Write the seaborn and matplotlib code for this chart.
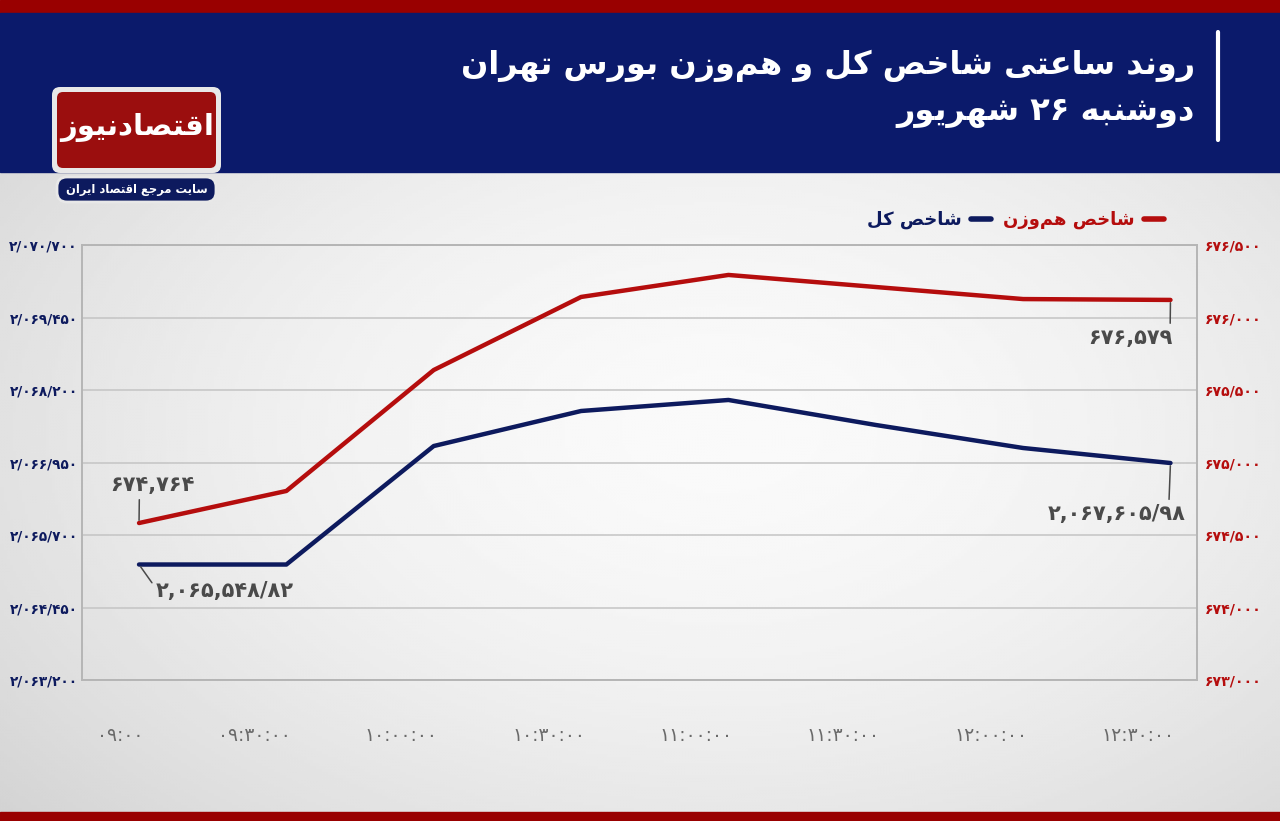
import matplotlib
matplotlib.use("Agg")
import matplotlib.pyplot as plt
import matplotlib.transforms as mtransforms
from matplotlib.patches import Rectangle, FancyBboxPatch
from matplotlib.lines import Line2D
from matplotlib.ticker import FuncFormatter
import numpy as np
import pandas as pd
import seaborn as sns

# --- data ---
times = ["۰۹:۰۰", "۰۹:۳۰:۰۰", "۱۰:۰۰:۰۰", "۱۰:۳۰:۰۰",
         "۱۱:۰۰:۰۰", "۱۱:۳۰:۰۰", "۱۲:۰۰:۰۰", "۱۲:۳۰:۰۰"]
total_index = [2065191, 2065191, 2067234, 2067838, 2068028, 2067597, 2067200, 2066941]
equal_index = [674263, 674521, 675494, 676082, 676259, 676162, 676065, 676058]
left_ticks = np.arange(2063200, 2070701, 1250)
# right-hand labels exactly as printed on the chart (673/500 is skipped there)
right_labels = ["۶۷۳/۰۰۰", "۶۷۴/۰۰۰", "۶۷۴/۵۰۰", "۶۷۵/۰۰۰",
                "۶۷۵/۵۰۰", "۶۷۶/۰۰۰", "۶۷۶/۵۰۰"]
right_lim = (673000, 676500)

title_1 = "روند ساعتی شاخص کل و هم\u200cوزن بورس تهران"
title_2 = "دوشنبه ۲۶ شهریور"
name_total = "شاخص کل"
name_equal = "شاخص هم\u200cوزن"
logo_name = "اقتصادنیوز"
logo_sub = "سایت مرجع اقتصاد ایران"
first_total_txt = "۲,۰۶۵,۵۴۸/۸۲"
last_total_txt = "۲,۰۶۷,۶۰۵/۹۸"
first_equal_txt = "۶۷۴,۷۶۴"
last_equal_txt = "۶۷۶,۵۷۹"

RED = "#b50d0d"
NAVY = "#0d1a5e"
HEAD = "#0b1a6b"

# --- tiny persian shaper (matplotlib does no arabic shaping) ---
FORMS = {
    "ا": (0xFE8D, 0xFE8E), "د": (0xFEA9, 0xFEAA), "ر": (0xFEAD, 0xFEAE),
    "ز": (0xFEAF, 0xFEB0), "و": (0xFEED, 0xFEEE),
    "ب": (0xFE8F, 0xFE90, 0xFE91, 0xFE92), "ت": (0xFE95, 0xFE96, 0xFE97, 0xFE98),
    "ج": (0xFE9D, 0xFE9E, 0xFE9F, 0xFEA0), "ح": (0xFEA1, 0xFEA2, 0xFEA3, 0xFEA4),
    "خ": (0xFEA5, 0xFEA6, 0xFEA7, 0xFEA8), "س": (0xFEB1, 0xFEB2, 0xFEB3, 0xFEB4),
    "ش": (0xFEB5, 0xFEB6, 0xFEB7, 0xFEB8), "ص": (0xFEB9, 0xFEBA, 0xFEBB, 0xFEBC),
    "ع": (0xFEC9, 0xFECA, 0xFECB, 0xFECC), "ق": (0xFED5, 0xFED6, 0xFED7, 0xFED8),
    "ل": (0xFEDD, 0xFEDE, 0xFEDF, 0xFEE0), "م": (0xFEE1, 0xFEE2, 0xFEE3, 0xFEE4),
    "ن": (0xFEE5, 0xFEE6, 0xFEE7, 0xFEE8), "ه": (0xFEE9, 0xFEEA, 0xFEEB, 0xFEEC),
    "ک": (0xFB8E, 0xFB8F, 0xFB90, 0xFB91), "ی": (0xFBFC, 0xFBFD, 0xFBFE, 0xFBFF),
}


def shape(word):
    out = []
    for i, ch in enumerate(word):
        if ch not in FORMS:
            out.append(ch)
            continue
        prev = word[i - 1] if i > 0 else ""
        nxt = word[i + 1] if i < len(word) - 1 else ""
        f = FORMS[ch]
        jp = prev in FORMS and len(FORMS[prev]) == 4
        jn = len(f) == 4 and nxt in FORMS
        if jp and jn:
            c = f[3]
        elif jp:
            c = f[1]
        elif jn:
            c = f[2]
        else:
            c = f[0]
        out.append(chr(c))
    return "".join(out).replace("\u200c", "")


def rtl(text):
    vis = []
    for w in reversed(text.split(" ")):
        vis.append(shape(w)[::-1] if any(ch in FORMS for ch in w) else w)
    return " ".join(vis)


fa_digits = str.maketrans("0123456789", "۰۱۲۳۴۵۶۷۸۹")


def fa_num(v, pos=None):
    return f"{int(round(v)):,}".replace(",", "/").translate(fa_digits)


sns.set_style("white")
plt.rcParams["font.family"] = ["DejaVu Sans"]

fig = plt.figure(figsize=(12.8, 8.21), dpi=100)

# background + header decoration (pixel coords)
bg = fig.add_axes([0, 0, 1, 1], zorder=-10)
bg.set_xlim(0, 1280)
bg.set_ylim(821, 0)
bg.axis("off")
yy, xx = np.mgrid[0:821:3, 0:1280:3]
r = np.sqrt(((xx - 720) / 900.0) ** 2 + ((yy - 430) / 560.0) ** 2)
bg.imshow(0.98 - 0.14 * r ** 1.7, cmap="gray", vmin=0, vmax=1,
          extent=[0, 1280, 821, 0], aspect="auto", interpolation="bilinear")
bg.add_patch(Rectangle((0, 0), 1280, 13, color="#990000"))
bg.add_patch(Rectangle((0, 13), 1280, 159, color=HEAD))
bg.add_patch(Rectangle((0, 812), 1280, 9, color="#990000"))
bg.plot([1218, 1218], [32, 140], color="white", lw=3, solid_capstyle="round")
bg.text(1195, 66, rtl(title_1), color="white", fontsize=23, fontweight="bold",
        ha="right", va="center")
bg.text(1195, 113, rtl(title_2), color="white", fontsize=23, fontweight="bold",
        ha="right", va="center")

# logo
bg.add_patch(FancyBboxPatch((52, 87), 169, 86, boxstyle="round,pad=0,rounding_size=8",
                            fc="#e8e8e8", ec="none"))
bg.add_patch(FancyBboxPatch((57, 92), 159, 76, boxstyle="round,pad=0,rounding_size=6",
                            fc="#9b0e0e", ec="none"))
bg.text(137, 128, rtl(logo_name), color="white", fontsize=21, fontweight="bold",
        ha="center", va="center")
bg.add_patch(FancyBboxPatch((57, 177), 159, 25, boxstyle="round,pad=0,rounding_size=10",
                            fc=NAVY, ec="#e8e8e8", lw=2))
bg.text(137, 190, rtl(logo_sub), color="white", fontsize=8.3, fontweight="bold",
        ha="center", va="center")

# --- main chart ---
df = pd.DataFrame({"pos": np.arange(len(times)), "total": total_index, "equal": equal_index})

ax = fig.add_axes([82 / 1280, 141 / 821, 1115 / 1280, 435 / 821])
ax.set_facecolor("none")
ax2 = ax.twinx()
ax2.set_facecolor("none")

sns.lineplot(data=df, x="pos", y="total", ax=ax, color=NAVY, lw=3.2)
sns.lineplot(data=df, x="pos", y="equal", ax=ax2, color=RED, lw=3.2)

ax.set_xlim(-0.387, 7.18)
ax.set_ylim(left_ticks[0], left_ticks[-1])
ax2.set_ylim(*right_lim)
ax.set_yticks(left_ticks)
ax.yaxis.set_major_formatter(FuncFormatter(fa_num))
ax2.set_yticks(np.linspace(right_lim[0], right_lim[1], len(right_labels)), right_labels)
ax.grid(axis="y", color="#c4c4c4", lw=1.1)
ax.set_xlabel("")
ax.set_ylabel("")
ax2.set_ylabel("")

ax.set_xticks(df["pos"], times)
ax.tick_params(axis="x", length=0, pad=33, labelsize=13.5, labelcolor="#6a6a6a")
offset = mtransforms.ScaledTranslation(4 / 100, 0, fig.dpi_scale_trans)
for lab in ax.get_xticklabels():
    lab.set_horizontalalignment("right")
    lab.set_transform(lab.get_transform() + offset)
ax.tick_params(axis="y", length=0, pad=3, labelsize=9.8, labelcolor=NAVY)
ax2.tick_params(axis="y", length=0, pad=6, labelsize=10.2, labelcolor=RED)
for lab in ax.get_yticklabels() + ax2.get_yticklabels():
    lab.set_fontweight("bold")

for a in (ax, ax2):
    for s in a.spines.values():
        s.set_color("#b5b5b5")
        s.set_linewidth(1.2)

# value labels
ann = dict(color="#4a4a4a", fontsize=15, fontweight="bold", textcoords="offset pixels",
           va="center", ha="center")
lead = dict(arrowstyle="-", color="#4a4a4a", lw=1.1, shrinkA=1, shrinkB=2)
n = len(times) - 1
ax2.annotate(first_equal_txt, (0, equal_index[0]), xytext=(13, 38),
             arrowprops=dict(lead, relpos=(0.35, 0.0)), **ann)
ax.annotate(first_total_txt, (0, total_index[0]), xytext=(86, -26),
            arrowprops=dict(lead, relpos=(0.0, 0.6)), **ann)
ax2.annotate(last_equal_txt, (n, equal_index[n]), xytext=(-40, -38),
             arrowprops=dict(lead, relpos=(0.97, 1.0)), **ann)
ax.annotate(last_total_txt, (n, total_index[n]), xytext=(-54, -51),
            arrowprops=dict(lead, relpos=(0.88, 1.0)), **ann)

# legend (rtl: swatch on the right of each name)
handles = [Line2D([], [], color=NAVY, lw=4), Line2D([], [], color=RED, lw=4)]
leg = fig.legend(handles, [rtl(name_total), rtl(name_equal)], ncol=2, markerfirst=False,
                 loc="center right", bbox_to_anchor=(1180 / 1280, 1 - 220 / 821),
                 frameon=False, handlelength=1.1, handletextpad=0.5, columnspacing=0.7,
                 prop=dict(weight="bold", size=13))
for t, c in zip(leg.get_texts(), [NAVY, RED]):
    t.set_color(c)

fig.savefig("out.png", dpi=100)
